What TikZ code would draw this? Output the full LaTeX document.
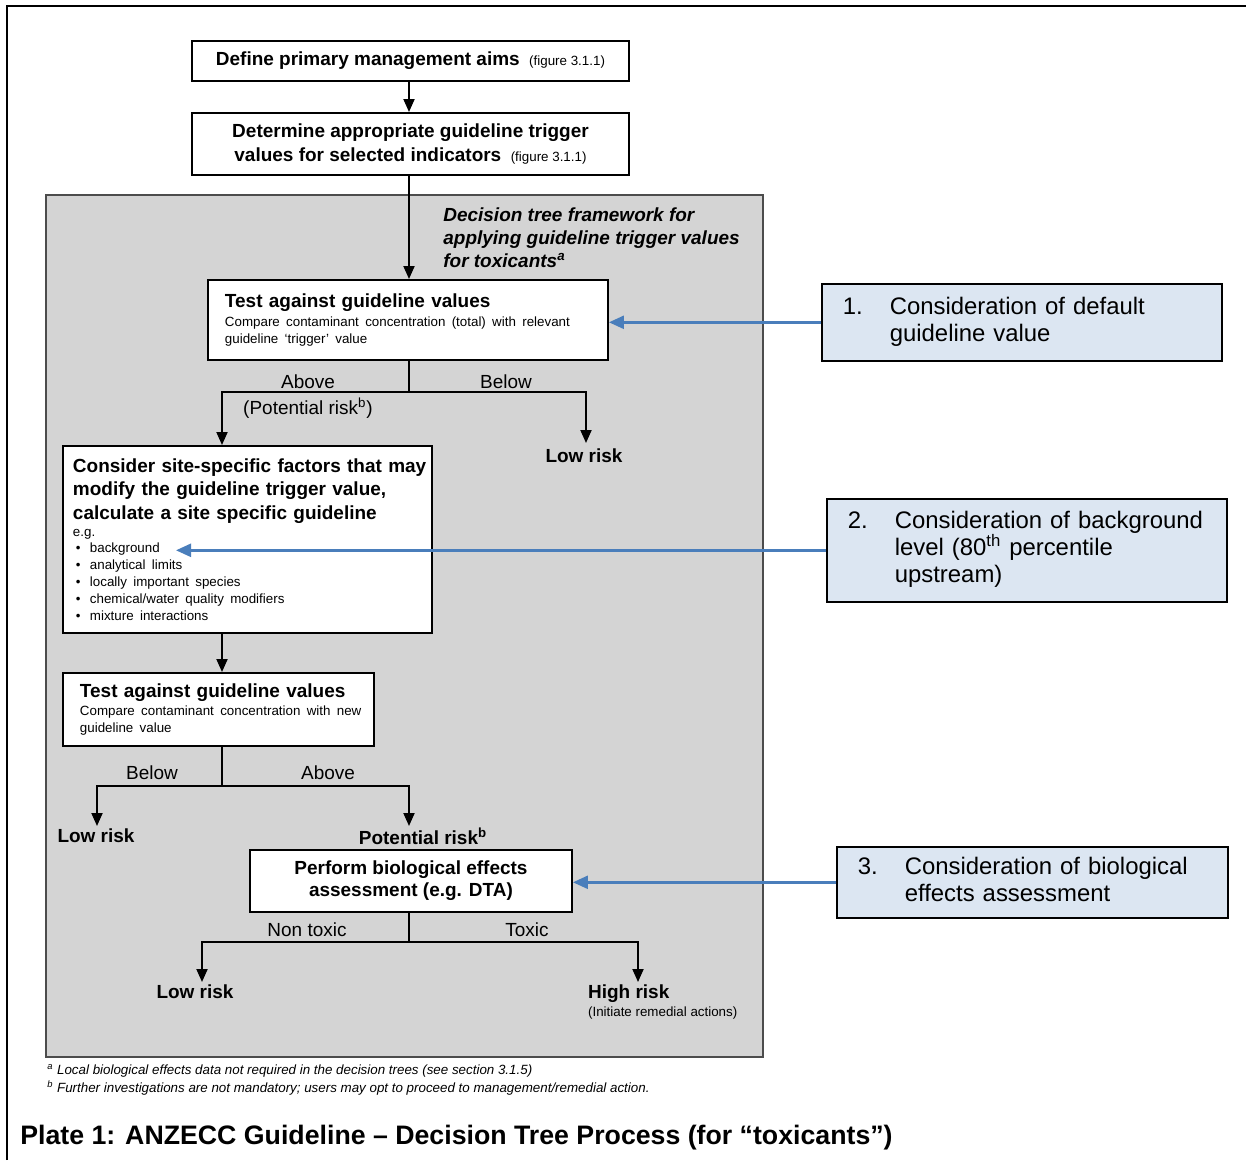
\documentclass[tikz,border=0pt]{standalone}
\usepackage{fontspec}
\setmainfont{Liberation Sans}
\usetikzlibrary{arrows.meta}
\definecolor{panelgray}{HTML}{D4D4D4}
\definecolor{notefill}{HTML}{DCE6F2}
\definecolor{noteblue}{HTML}{4A7EBB}
\newcommand{\txtmain}{\fontsize{10.8}{13.4}\selectfont}
\newcommand{\txtsmall}{\fontsize{7.6}{9.6}\selectfont}
\newcommand{\txtnote}{\fontsize{13.6}{15.4}\selectfont}
\newcommand{\txttitle}{\fontsize{15.2}{18}\selectfont}
\newcommand{\bul}{\hspace*{0.6mm}\makebox[2.8mm][l]{\textbullet}}
\newcommand{\boxtext}[1]{\leftskip=#1\rightskip=0pt plus 1fil\parfillskip=0pt plus 1fil\hyphenpenalty=10000\noindent}
\newcommand{\notetab}[3]{\noindent\hspace*{4.2mm}\begin{tabular}{@{}p{9.4mm}@{}p{#3}@{}}#1&#2\end{tabular}}
\tikzset{
  whitebox/.style={draw, line width=1.1pt, fill=white, inner ysep=0pt, font=\txtmain, anchor=north west},
  textbox/.style={whitebox, inner xsep=0pt, align=left},
  notebox/.style={draw, line width=0.9pt, fill=notefill, anchor=north west, align=left, inner xsep=0pt, font=\txtnote},
  conn/.style={line width=1.1pt},
  arr/.style={conn, -{Triangle[length=2.6mm,width=2.2mm]}},
  bluearr/.style={noteblue, line width=1.4pt, -{Triangle[length=3mm,width=2.6mm]}},
  lbl/.style={font=\txtmain, inner sep=1pt},
  risk/.style={font=\txtmain\bfseries, inner sep=1pt},
}
\begin{document}
\begin{tikzpicture}[x=0.2mm,y=-0.2mm]
\useasboundingbox (0,0) rectangle (1246,1160);
% frame and grey panel
\draw[line width=1.3pt] (7,1160) -- (7,6) -- (1246,6);
\draw[fill=panelgray, draw=black!70, line width=1pt] (46,195) rectangle (763,1057);
\node[anchor=north west, align=left, inner sep=0pt, font=\fontsize{10.8}{13.1}\selectfont\bfseries\itshape] (heading) at (443,207)
  {Decision tree framework for\\applying guideline trigger values\\for toxicants\textsuperscript{a}};

% boxes
\node[whitebox, minimum width=87.4mm, minimum height=8mm] (aims) at (191,40)
  {\bfseries Define primary management aims\enspace{\txtsmall\mdseries (figure 3.1.1)}};
\node[whitebox, minimum width=87.4mm, minimum height=12.4mm, align=center, font=\txtmain\bfseries] (gtv) at (191,112)
  {Determine appropriate guideline trigger\\values for selected indicators\enspace{\txtsmall\mdseries (figure 3.1.1)}};
\node[textbox, minimum height=16mm, text width=80mm] (test1) at (207,279)
  {\boxtext{3.4mm}{\bfseries Test against guideline values\par}\vspace{1pt}
   {\txtsmall Compare contaminant concentration (total) with relevant\\guideline ‘trigger’ value\par}};
\node[textbox, minimum height=37.4mm, text width=73.8mm] (site) at (62,445)
  {\boxtext{2mm}{\bfseries Consider site-specific factors that may\\modify the guideline trigger value,\\calculate a site specific guideline\par}
   {\txtsmall e.g.\\\bul background\\\bul analytical limits\\\bul locally important species\\\bul chemical/water quality modifiers\\\bul mixture interactions\par}};
\node[textbox, minimum height=14.6mm, text width=62.2mm] (test2) at (62,672)
  {\boxtext{3.4mm}{\bfseries Test against guideline values\par}\vspace{1pt}
   {\txtsmall Compare contaminant concentration with new\\guideline value\par}};
\node[whitebox, minimum width=64.4mm, minimum height=12.4mm, align=center, font=\fontsize{10.8}{12.6}\selectfont\bfseries] (bio) at (249,849)
  {Perform biological effects\\assessment (e.g. DTA)};

% branch labels and outcomes
\node[lbl] (above1) at (308,382) {Above};
\node[lbl] (below1) at (506,382) {Below};
\node[lbl] (prisk1) at (308,408) {(Potential risk\textsuperscript{b})};
\node[risk] (low1) at (584,456) {Low risk};
\node[lbl] (below2) at (152,773) {Below};
\node[lbl] (above2) at (328,773) {Above};
\node[risk] (low2) at (96,836) {Low risk};
\node[risk] (prisk2) at (423,836) {Potential risk\textsuperscript{b}};
\node[lbl] (nontox) at (307,930) {Non toxic};
\node[lbl] (tox) at (527,930) {Toxic};
\node[risk] (low3) at (195,992) {Low risk};
\node[risk, anchor=west] (high) at (586,994) {High risk};
\node[anchor=north west, font=\txtsmall, inner sep=1pt] (remed) at (high.south west) {(Initiate remedial actions)};

% connectors
\coordinate (j1) at (409,392);
\coordinate (tSite) at (222,445);
\coordinate (tLow1) at (586,443);
\coordinate (j2) at (222,786);
\coordinate (tLow2) at (97,826);
\coordinate (tPot) at (409,826);
\coordinate (j3) at (409,942);
\coordinate (tLow3) at (202,982);
\coordinate (tHigh) at (638,982);
\draw[arr] (aims.south -| j1) -- (gtv.north -| j1);
\draw[arr] (gtv.south -| j1) -- (test1.north -| j1);
\draw[conn] (test1.south -| j1) -- (j1);
\draw[arr] (j1) -| (tSite);
\draw[arr] (j1) -| (tLow1);
\draw[arr] (site.south -| tSite) -- (test2.north -| tSite);
\draw[conn] (test2.south -| j2) -- (j2);
\draw[arr] (j2) -| (tLow2);
\draw[arr] (j2) -| (tPot);
\draw[conn] (bio.south -| j3) -- (j3);
\draw[arr] (j3) -| (tLow3);
\draw[arr] (j3) -| (tHigh);

% footnotes and caption
\node[anchor=west, font=\txtsmall\itshape, inner sep=0pt] (fna) at (47,1071)
  {\textsuperscript{a} Local biological effects data not required in the decision trees (see section 3.1.5)};
\node[anchor=west, font=\txtsmall\itshape, inner sep=0pt] (fnb) at (47,1088)
  {\textsuperscript{b} Further investigations are not mandatory; users may opt to proceed to management/remedial action.};
\node[anchor=west, font=\txttitle\bfseries, inner sep=0pt] (caption) at (20,1138)
  {Plate 1: ANZECC Guideline – Decision Tree Process (for “toxicants”)};

% numbered notes
\node[notebox, minimum width=80mm, text width=80mm, minimum height=15.4mm] (note1) at (821,283)
  {\notetab{1.}{Consideration of default\newline guideline value}{64mm}};
\node[notebox, minimum width=80mm, text width=80mm, minimum height=20.6mm] (note2) at (826,498)
  {\notetab{2.}{Consideration of background\newline level (80\textsuperscript{th} percentile\newline upstream)}{63mm}};
\node[notebox, minimum width=78.2mm, text width=78.2mm, minimum height=14.2mm] (note3) at (836,846)
  {\notetab{3.}{Consideration of biological\newline effects assessment}{62mm}};
\coordinate (bgword) at (176,550);
\draw[bluearr] (note1.west) -- (note1.west -| test1.east);
\draw[bluearr] (note2.west) -- (note2.west -| bgword);
\draw[bluearr] (note3.west) -- (note3.west -| bio.east);
\end{tikzpicture}
\end{document}
